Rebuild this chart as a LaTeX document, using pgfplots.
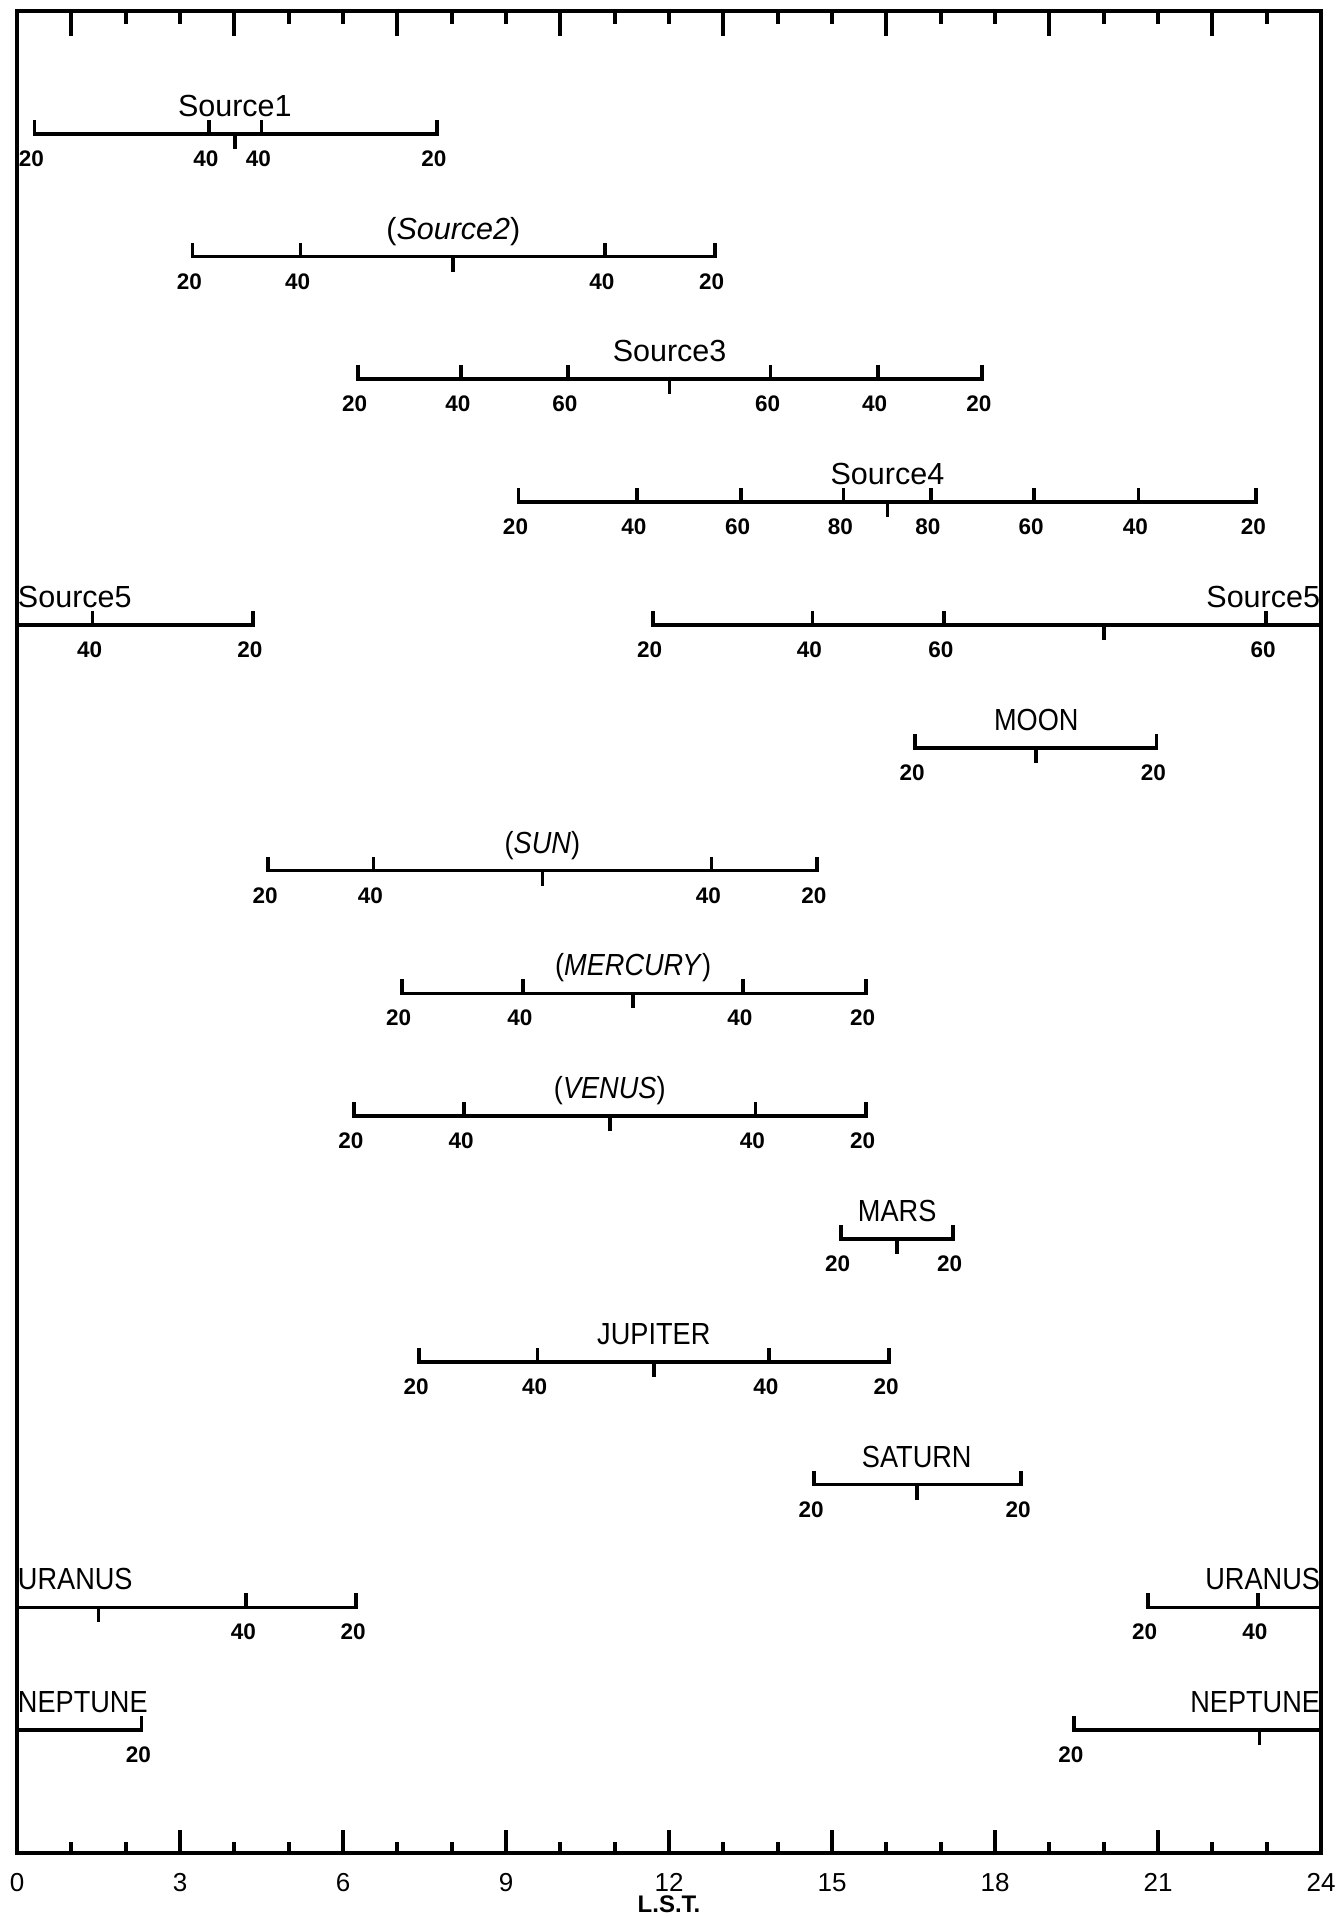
\documentclass[border=0pt]{standalone}
\usepackage{fontspec}
\setmainfont{Liberation Sans}
\newfontfamily\capfont[FakeStretch=0.89]{Liberation Sans}
\usepackage{pgfplots}
\pgfplotsset{compat=1.18}
\newcommand\numfont{\fontsize{4.5}{5}\selectfont\bfseries}
\newcommand\labfont{\fontsize{6.1}{7}\selectfont}
\newcommand\ticfont{\fontsize{5.2}{6}\selectfont}
\pgfdeclareplotmark{utick}{\pgfpathmoveto{\pgfpointorigin}\pgfpathlineto{\pgfpoint{0pt}{2.8pt}}\pgfusepathqstroke}
\pgfdeclareplotmark{dtick}{\pgfpathmoveto{\pgfpointorigin}\pgfpathlineto{\pgfpoint{0pt}{-3pt}}\pgfusepathqstroke}
\pgfplotsset{
  seg/.style={black, line width=0.75pt, line cap=rect, mark=none},
  up/.style={black, line width=0.75pt, only marks, mark=utick,
    nodes near coords, point meta=explicit symbolic,
    nodes near coords style={anchor=north, yshift=-3.0pt, xshift=-0.6pt, inner sep=0pt, font=\numfont, black}},
  dn/.style={black, line width=0.75pt, only marks, mark=dtick},
}
\tikzset{lab/.style={anchor=base, yshift=3.5pt, inner sep=0pt, font=\labfont},
  caplab/.style={lab, font=\labfont\capfont}}
\begin{document}
\begin{tikzpicture}
\begin{axis}[
  width=260.8pt, height=368.4pt, scale only axis,
  xmin=0, xmax=24, ymin=0, ymax=15,
  xtick={0,3,...,24}, minor x tick num=2, xtick pos=bottom,
  ytick=\empty,
  tick align=inside, major tick length=4.5pt, minor tick length=2.2pt,
  axis line style={line width=0.75pt},
  every tick/.style={black, line width=0.75pt},
  xticklabel style={font=\ticfont, inner sep=0pt, anchor=north, yshift=-3.9pt},
  /pgf/number format/assume math mode=true,
  clip=false,
]
% Source1
\addplot[seg] coordinates {(0.32,14) (7.73,14)};
\addplot[up] coordinates {(0.32,14)[20] (3.53,14)[40] (4.50,14)[40] (7.73,14)[20]};
\addplot[dn] coordinates {(4.01,14)};
\node[lab] at (axis cs:4.01,14) {Source1};
% Source2
\addplot[seg] coordinates {(3.23,13) (12.84,13)};
\addplot[up] coordinates {(3.23,13)[20] (5.22,13)[40] (10.82,13)[40] (12.84,13)[20]};
\addplot[dn] coordinates {(8.03,13)};
\node[lab] at (axis cs:8.03,13) {(\textit{Source2})};
% Source3
\addplot[seg] coordinates {(6.27,12) (17.76,12)};
\addplot[up] coordinates {(6.27,12)[20] (8.17,12)[40] (10.14,12)[60] (13.87,12)[60] (15.84,12)[40] (17.76,12)[20]};
\addplot[dn] coordinates {(12.01,12)};
\node[lab] at (axis cs:12.01,12) {Source3};
% Source4
\addplot[seg] coordinates {(9.23,11) (22.81,11)};
\addplot[up] coordinates {(9.23,11)[20] (11.41,11)[40] (13.32,11)[60] (15.21,11)[80] (16.82,11)[80] (18.72,11)[60] (20.64,11)[40] (22.81,11)[20]};
\addplot[dn] coordinates {(16.02,11)};
\node[lab] at (axis cs:16.02,11) {Source4};
% Source5
\addplot[seg] coordinates {(0,10) (4.34,10)};
\addplot[seg] coordinates {(11.70,10) (24,10)};
\addplot[up] coordinates {(1.39,10)[40] (4.34,10)[20] (11.70,10)[20] (14.64,10)[40] (17.06,10)[60] (22.99,10)[60]};
\addplot[dn] coordinates {(20.01,10)};
\node[lab, anchor=base west] at (axis cs:0,10) {Source5};
\node[lab, anchor=base east] at (axis cs:24,10) {Source5};
% MOON
\addplot[seg] coordinates {(16.53,9) (20.97,9)};
\addplot[up] coordinates {(16.53,9)[20] (20.97,9)[20]};
\addplot[dn] coordinates {(18.76,9)};
\node[caplab] at (axis cs:18.76,9) {MOON};
% SUN
\addplot[seg] coordinates {(4.62,8) (14.72,8)};
\addplot[up] coordinates {(4.62,8)[20] (6.56,8)[40] (12.78,8)[40] (14.72,8)[20]};
\addplot[dn] coordinates {(9.67,8)};
\node[caplab] at (axis cs:9.67,8) {(\textit{SUN})};
% MERCURY
\addplot[seg] coordinates {(7.08,7) (15.62,7)};
\addplot[up] coordinates {(7.08,7)[20] (9.31,7)[40] (13.36,7)[40] (15.62,7)[20]};
\addplot[dn] coordinates {(11.34,7)};
\node[caplab] at (axis cs:11.34,7) {(\textit{MERCURY})};
% VENUS
\addplot[seg] coordinates {(6.20,6) (15.62,6)};
\addplot[up] coordinates {(6.20,6)[20] (8.23,6)[40] (13.59,6)[40] (15.62,6)[20]};
\addplot[dn] coordinates {(10.91,6)};
\node[caplab] at (axis cs:10.91,6) {(\textit{VENUS})};
% MARS
\addplot[seg] coordinates {(15.16,5) (17.22,5)};
\addplot[up] coordinates {(15.16,5)[20] (17.22,5)[20]};
\addplot[dn] coordinates {(16.20,5)};
\node[caplab] at (axis cs:16.20,5) {MARS};
% JUPITER
\addplot[seg] coordinates {(7.40,4) (16.05,4)};
\addplot[up] coordinates {(7.40,4)[20] (9.58,4)[40] (13.84,4)[40] (16.05,4)[20]};
\addplot[dn] coordinates {(11.72,4)};
\node[caplab] at (axis cs:11.72,4) {JUPITER};
% SATURN
\addplot[seg] coordinates {(14.67,3) (18.48,3)};
\addplot[up] coordinates {(14.67,3)[20] (18.48,3)[20]};
\addplot[dn] coordinates {(16.56,3)};
\node[caplab] at (axis cs:16.56,3) {SATURN};
% URANUS
\addplot[seg] coordinates {(0,2) (6.24,2)};
\addplot[seg] coordinates {(20.81,2) (24,2)};
\addplot[up] coordinates {(4.22,2)[40] (6.24,2)[20] (20.81,2)[20] (22.84,2)[40]};
\addplot[dn] coordinates {(1.50,2)};
\node[caplab, anchor=base west] at (axis cs:0,2) {URANUS};
\node[caplab, anchor=base east] at (axis cs:24,2) {URANUS};
% NEPTUNE
\addplot[seg] coordinates {(0,1) (2.29,1)};
\addplot[seg] coordinates {(19.45,1) (24,1)};
\addplot[up] coordinates {(2.29,1)[20] (19.45,1)[20]};
\addplot[dn] coordinates {(22.87,1)};
\node[caplab, anchor=base west] at (axis cs:0,1) {NEPTUNE};
\node[caplab, anchor=base east] at (axis cs:24,1) {NEPTUNE};
% axis label
\node[anchor=center, yshift=-10.2pt, inner sep=0pt, font=\bfseries\fontsize{4.8}{5.5}\selectfont] at (rel axis cs:0.5,0) {L.S.T.};
\end{axis}
\begin{axis}[
  width=260.8pt, height=368.4pt, scale only axis,
  xmin=0, xmax=24, ymin=0, ymax=15,
  xtick={1,4,...,22}, minor xtick={0,...,24}, xtick pos=top,
  xticklabels={}, ytick=\empty,
  tick align=inside, major tick length=5.1pt, minor tick length=2.6pt,
  axis line style={line width=0.75pt},
  every tick/.style={black, line width=0.75pt},
]
\end{axis}
\pgfresetboundingbox
\path ([xshift=-3.4pt,yshift=-13.6pt]current axis.south west) rectangle ([xshift=3.8pt,yshift=2.2pt]current axis.north east);
\end{tikzpicture}
\end{document}
